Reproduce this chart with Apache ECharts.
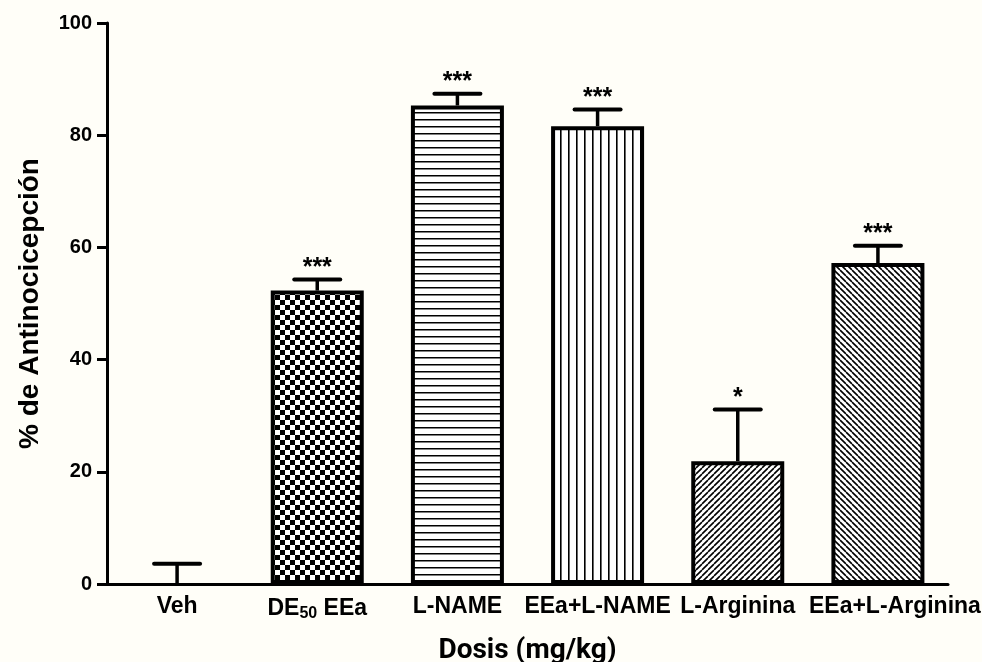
<!DOCTYPE html>
<html><head><meta charset="utf-8">
<script src="https://cdn.jsdelivr.net/npm/echarts@6/dist/echarts.min.js"></script>
<style>html,body{margin:0;padding:0;background:#fffef8;}#c{width:982px;height:662px;}</style>
</head><body><div id="c"></div>
<script>
var categories = ['Veh', 'DE50 EEa', 'L-NAME', 'EEa+L-NAME', 'L-Arginina', 'EEa+L-Arginina'];
var means = [0, 52.3, 85.3, 81.6, 21.9, 57.2];
var upperErr = [3.6, 54.3, 87.4, 84.6, 31.1, 60.3];
var signif = ['', '***', '***', '***', '*', '***'];
var yTicks = [0, 20, 40, 60, 80, 100];

function makePattern(kind) {
  var c = document.createElement('canvas');
  var ctx;
  if (kind === 'checker') {
    c.width = 10; c.height = 10; ctx = c.getContext('2d');
    ctx.fillStyle = '#fff'; ctx.fillRect(0, 0, 10, 10);
    ctx.fillStyle = '#000'; ctx.fillRect(0, 0, 5, 5); ctx.fillRect(5, 5, 5, 5);
  } else if (kind === 'hlines') {
    c.width = 8; c.height = 7; ctx = c.getContext('2d');
    ctx.fillStyle = '#fff'; ctx.fillRect(0, 0, 8, 7);
    ctx.fillStyle = '#000'; ctx.fillRect(0, 0, 8, 1.5);
  } else if (kind === 'vlines') {
    c.width = 8; c.height = 8; ctx = c.getContext('2d');
    ctx.fillStyle = '#fff'; ctx.fillRect(0, 0, 8, 8);
    ctx.fillStyle = '#000'; ctx.fillRect(0, 0, 1.6, 8);
  } else if (kind === 'fdiag' || kind === 'bdiag') {
    var s = 6;
    c.width = s; c.height = s; ctx = c.getContext('2d');
    ctx.fillStyle = '#fff'; ctx.fillRect(0, 0, s, s);
    ctx.strokeStyle = '#000'; ctx.lineWidth = 1.6;
    ctx.beginPath();
    for (var k = -1; k <= 1; k++) {
      if (kind === 'fdiag') { ctx.moveTo(k * s, s); ctx.lineTo(k * s + s, 0); }
      else { ctx.moveTo(k * s, 0); ctx.lineTo(k * s + s, s); }
    }
    ctx.stroke();
  }
  return { image: c, repeat: 'repeat' };
}
var patterns = ['none', 'checker', 'hlines', 'vlines', 'fdiag', 'bdiag'];

var barData = means.map(function (v, i) {
  if (i === 0) return { value: v, itemStyle: { color: 'rgba(0,0,0,0)', borderWidth: 0 } };
  return { value: v, itemStyle: { color: makePattern(patterns[i]) } };
});
var errData = means.map(function (v, i) { return [i, v, upperErr[i]]; });

var chart = echarts.init(document.getElementById('c'), null, { renderer: 'canvas' });
chart.setOption({
  backgroundColor: '#fffef8',
  animation: false,
  grid: { left: 107, right: 34, top: 23, bottom: 78, containLabel: false, outerBoundsMode: 'none' },
  xAxis: {
    type: 'category', data: categories,
    axisLine: { lineStyle: { color: '#000', width: 3 } },
    axisTick: { alignWithLabel: true, length: 9, lineStyle: { color: '#000', width: 3 } },
    axisLabel: {
      interval: 0, hideOverlap: false, margin: 11, color: '#000', fontFamily: 'Liberation Sans', fontWeight: 'bold', fontSize: 23,
      formatter: function (v) {
        if (v === 'DE50 EEa') return 'DE{sub|50} EEa';
        if (v === 'EEa+L-Arginina') return '{shift|' + v + '}';
        return v;
      },
      rich: {
        sub: { fontSize: 16, fontWeight: 'bold', fontFamily: 'Liberation Sans', verticalAlign: 'bottom', padding: [11, 0, 0, 0], color: '#000' },
        shift: { fontSize: 23, fontWeight: 'bold', fontFamily: 'Liberation Sans', padding: [0, 0, 0, 34], color: '#000' }
      }
    },
    name: 'Dosis (mg/kg)', nameLocation: 'middle', nameGap: 53,
    nameTextStyle: { color: '#000', fontFamily: 'Roboto', fontWeight: 'bold', fontSize: 28 }
  },
  yAxis: {
    type: 'value', min: 0, max: 100, interval: 20,
    splitLine: { show: false },
    axisLine: { show: true, lineStyle: { color: '#000', width: 3 } },
    axisTick: { show: true, length: 10, lineStyle: { color: '#000', width: 3 } },
    axisLabel: { margin: 15, color: '#000', fontFamily: 'Liberation Sans', fontWeight: 'bold', fontSize: 20,
      formatter: function (v) { return yTicks.indexOf(v) >= 0 ? String(v) : ''; } },
    name: '% de Antinocicepción', nameLocation: 'middle', nameGap: 63, nameRotate: 90,
    nameTextStyle: { color: '#000', fontFamily: 'Liberation Sans', fontWeight: 'bold', fontSize: 28 }
  },
  series: [
    {
      type: 'bar', data: barData, barWidth: 93,
      itemStyle: { borderColor: '#000', borderWidth: 4 }
    },
    {
      type: 'custom', data: errData, z: 5,
      renderItem: function (params, api) {
        var i = api.value(0);
        var p0 = api.coord([i, api.value(1)]);
        var p1 = api.coord([i, api.value(2)]);
        var half = 23;
        var children = [
          { type: 'line', shape: { x1: p0[0], y1: p0[1], x2: p1[0], y2: p1[1] }, style: { stroke: '#000', lineWidth: 3.5 } },
          { type: 'line', shape: { x1: p1[0] - half, y1: p1[1], x2: p1[0] + half, y2: p1[1] }, style: { stroke: '#000', lineWidth: 4, lineCap: 'round' } }
        ];
        if (signif[i]) {
          children.push({ type: 'text', style: { text: signif[i], x: p1[0], y: p1[1] + 1, align: 'center', verticalAlign: 'bottom', font: 'bold 25px "Liberation Sans"', fill: '#000' } });
        }
        return { type: 'group', children: children };
      }
    }
  ]
});
</script></body></html>
